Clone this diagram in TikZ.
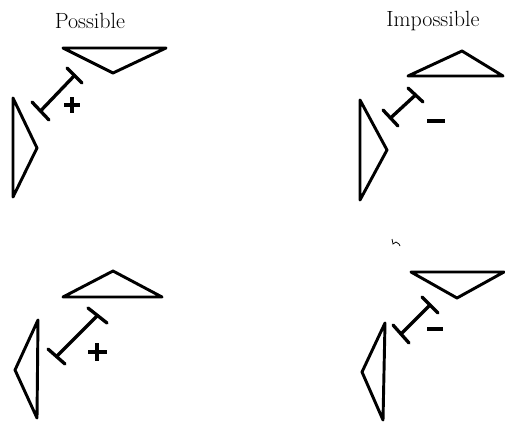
\documentclass[tikz,border=0pt]{standalone}
\begin{document}
\begin{tikzpicture}[x=0.75pt,y=-0.75pt,
  tri/.style={line width=2.2pt,line join=round,line cap=round},
  beam/.style={line width=2.5pt,line cap=round},
  sign/.style={line width=2.6pt},
  title/.style={font=\fontsize{16.5}{19}\selectfont}]
\useasboundingbox (0,0) rectangle (505,421);
% titles
\node[title] (t1) at (90,21) {Possible};
\node[title] (t2) at (433,21) {Impossible};
% ---- panel 1 (possible, top) ----
\draw[tri] (63,48) -- (166,48) -- (113,73) -- cycle;
\draw[tri] (13,98) -- (37,148) -- (13,197) -- cycle;
\draw[beam] (67,68) -- (82,83);
\draw[beam] (32,102) -- (49,120);
\draw[beam] (74.5,75.5) -- (40.5,111);
\draw[sign] (64,105) -- (80,105) (72,97) -- (72,113);
% ---- panel 2 (impossible, top) ----
\draw[tri] (408,76) -- (462,51) -- (503,76) -- cycle;
\draw[tri] (360,100) -- (387,150) -- (360,200) -- cycle;
\draw[beam] (408,88) -- (423,102);
\draw[beam] (383,110) -- (398,126);
\draw[beam] (415.5,95) -- (390.5,118);
\draw[sign] (427,121) -- (445,121);
% ---- panel 3 (possible, bottom) ----
\draw[tri] (63,297) -- (113,271) -- (162,297) -- cycle;
\draw[tri] (38,320) -- (15,370) -- (37,418) -- cycle;
\draw[beam] (88,308) -- (107,323);
\draw[beam] (48,349) -- (65,364);
\draw[beam] (97.5,315.5) -- (56.5,356.5);
\draw[sign] (88,352) -- (107,352) (97,343) -- (97,361);
% ---- panel 4 (impossible, bottom) ----
\draw[tri] (411,272) -- (504,272) -- (457,298) -- cycle;
\draw[tri] (385,323) -- (362,372) -- (383,420) -- cycle;
\draw[beam] (422,297) -- (438,313);
\draw[beam] (393,325) -- (409,343);
\draw[beam] (430,305) -- (401,334);
\draw[sign] (427,329) -- (443,329);
% scan mark
\draw[line width=0.6pt] (392,239) -- (393,244) -- (396,242) -- (399,244) -- (400,246);
\end{tikzpicture}
\end{document}
